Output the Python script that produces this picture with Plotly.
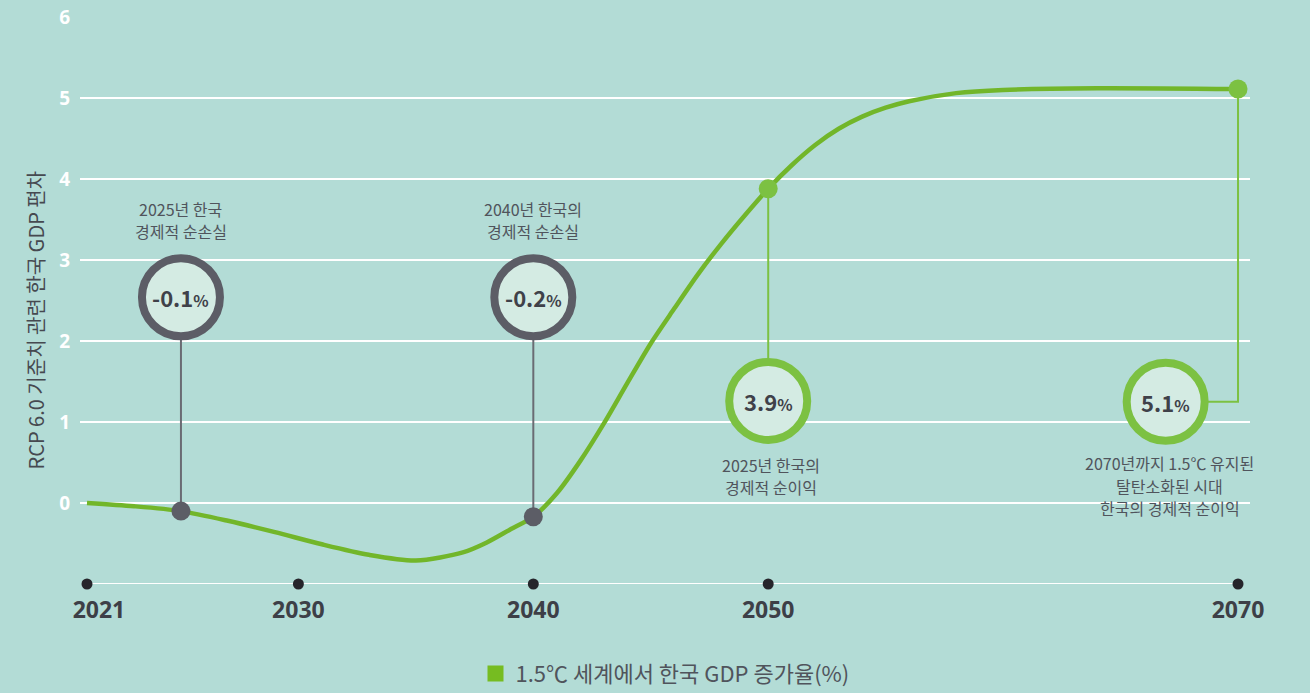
import plotly.graph_objects as go

# ---- data ----
years = [2021, 2023, 2025, 2027, 2029, 2031, 2033, 2035, 2037, 2038, 2039, 2040, 2041, 2042,
         2043, 2044, 2045, 2046, 2047, 2048, 2049, 2050, 2051, 2052, 2053, 2054, 2055, 2056,
         2058, 2060, 2064, 2070]
gdp_dev = [0.0, -0.04, -0.10, -0.22, -0.36, -0.51, -0.64, -0.71, -0.61, -0.49, -0.33, -0.17, 0.12, 0.52,
           0.98, 1.48, 1.97, 2.40, 2.82, 3.20, 3.55, 3.88, 4.17, 4.42, 4.62, 4.77, 4.88, 4.96,
           5.06, 5.10, 5.12, 5.11]

tick_years = [2021, 2030, 2040, 2050, 2070]
tick_labels = ["\u00a0\u00a0\u00a0\u00a02021", "2030", "2040", "2050", "2070"]
y_ticks = [0, 1, 2, 3, 4, 5, 6]

callout_years = [2025, 2040, 2050, 2070]
callout_vals = [-0.1, -0.17, 3.88, 5.11]
callout_text = ["-0.1", "-0.2", "3.9", "5.1"]
callout_x = [2025, 2040, 2050, 2066.92]
callout_y = [2.54, 2.54, 1.26, 1.25]
callout_colors = ["#5c5d66", "#5c5d66", "#7cc142", "#7cc142"]
callout_line_colors = ["#6a6b73", "#6a6b73", "#7cc142", "#7cc142"]
callout_notes = [["2025년 한국", "경제적 순손실"],
                 ["2040년 한국의", "경제적 순손실"],
                 ["2025년 한국의", "경제적 순이익"],
                 ["2070년까지 1.5℃ 유지된", "탈탄소화된 시대", "한국의 경제적 순이익"]]
note_x = [2025, 2040, 2050.1, 2067.1]
note_top_y = [3.63, 3.63, 0.47, 0.49]   # centre of first line
note_line_step = 0.275

series_name = "1.5℃ 세계에서 한국 GDP 증가율(%)"
y_title = "RCP 6.0 기준치 관련 한국 GDP 편차"

FONT = "Noto Sans CJK KR, Noto Sans, sans-serif"
BG = "#b3dcd6"
GREEN = "#72b62a"

fig = go.Figure()

# baseline axis line
fig.add_shape(type="line", x0=tick_years[0], x1=tick_years[-1], y0=-1, y1=-1,
              line=dict(color="white", width=2), layer="below")

# main curve
fig.add_trace(go.Scatter(x=years, y=gdp_dev, mode="lines",
                         line=dict(color=GREEN, width=4.5, shape="spline", smoothing=0.8),
                         showlegend=False, hoverinfo="skip"))

# connector lines
for i in range(4):
    if i == 3:
        xs = [callout_years[i], callout_years[i], callout_x[i]]
        ys = [callout_vals[i], callout_y[i], callout_y[i]]
    else:
        xs = [callout_years[i], callout_x[i]]
        ys = [callout_vals[i], callout_y[i]]
    fig.add_trace(go.Scatter(x=xs, y=ys, mode="lines", line=dict(color=callout_line_colors[i], width=2),
                             showlegend=False, hoverinfo="skip", cliponaxis=False))

# point markers
fig.add_trace(go.Scatter(x=callout_years, y=callout_vals, mode="markers",
                         marker=dict(size=19, color=callout_colors, line=dict(width=0)),
                         showlegend=False, hoverinfo="skip", cliponaxis=False))

# callout circles
fig.add_trace(go.Scatter(x=callout_x, y=callout_y, mode="markers",
                         marker=dict(size=78, color="#d4ebe3", line=dict(width=8, color=callout_colors)),
                         showlegend=False, hoverinfo="skip", cliponaxis=False))

# tick dots
fig.add_trace(go.Scatter(x=tick_years, y=[-1] * len(tick_years), mode="markers",
                         marker=dict(size=11, color="#26252b"), showlegend=False, hoverinfo="skip", cliponaxis=False))

# legend entry
fig.add_trace(go.Scatter(x=[None], y=[None], mode="markers", name=series_name,
                         marker=dict(symbol="square", size=22, color="#76bc21")))

for i in range(4):
    fig.add_annotation(x=callout_x[i], y=callout_y[i], xref="x", yref="y", showarrow=False,
                       text="<b>" + callout_text[i] + "<span style='font-size:16px'>%</span></b>",
                       font=dict(family=FONT, size=22, color="#3f4149"))
    for j, line in enumerate(callout_notes[i]):
        fig.add_annotation(x=note_x[i], y=note_top_y[i] - j * note_line_step, xref="x", yref="y",
                           showarrow=False, text=line, align="center", yanchor="middle",
                           font=dict(family=FONT, size=16, color="#50545c"))

fig.add_annotation(x=-0.038, y=2.26, xref="paper", yref="y", showarrow=False, textangle=-90,
                   text=y_title, xanchor="center", yanchor="middle",
                   font=dict(family=FONT, size=20, color="#464950"))

px_per_year = 23.52
fig.update_layout(
    width=1310, height=693, autosize=False,
    paper_bgcolor=BG, plot_bgcolor=BG,
    margin=dict(l=80, r=60, t=17, b=109, autoexpand=False),
    font=dict(family=FONT),
    xaxis=dict(range=[2021 - 7 / px_per_year, 2070 + 12 / px_per_year], tickvals=tick_years, ticktext=tick_labels,
               showgrid=False, zeroline=False, showline=False, ticks="",
               tickfont=dict(family="Open Sans, Noto Sans, sans-serif", size=23, color="#3d3f47", weight="bold"),
               ticklabelstandoff=10),
    yaxis=dict(range=[-1, 6], tickvals=y_ticks, showgrid=True, gridcolor="white", gridwidth=2,
               zeroline=False, showline=False, ticks="",
               tickfont=dict(family="Open Sans, Noto Sans, sans-serif", size=19, color="white", weight="bold"),
               ticklabelstandoff=9),
    legend=dict(orientation="h", x=0.5, xanchor="center", yref="container", y=0.028, yanchor="middle",
                font=dict(family=FONT, size=22, color="#50545c"), bgcolor="rgba(0,0,0,0)"),
    showlegend=True,
)

fig.write_html("out.html", config={"responsive": False, "displayModeBar": False},
               post_script="document.body.style.margin='0';document.body.style.overflow='hidden';")
